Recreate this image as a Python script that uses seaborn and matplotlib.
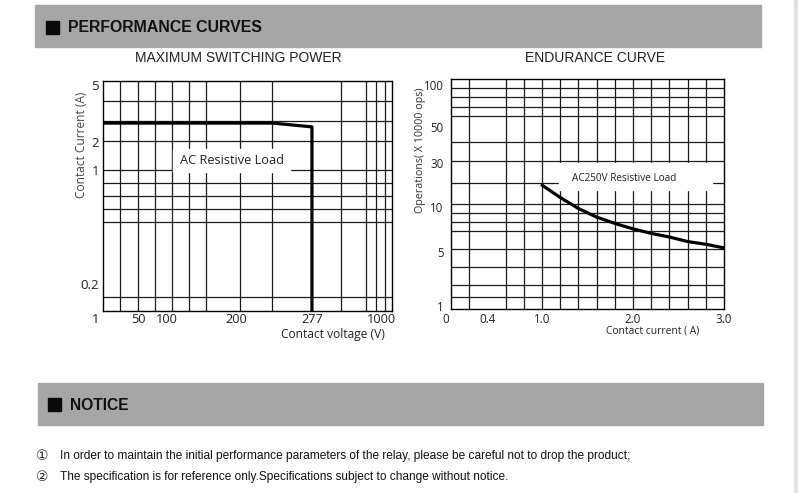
import numpy as np
import pandas as pd
import matplotlib
matplotlib.use("Agg")
import matplotlib.pyplot as plt
import matplotlib.transforms as mtransforms
from matplotlib.patches import Rectangle
from matplotlib import font_manager
import seaborn as sns

# ---------------- data ----------------
power_voltage = [1, 237, 277, 277]
power_current = [3.0, 3.0, 2.8, 0.1]
volt_ticks = [1, 50, 100, 200, 277, 1000]
volt_labels = ["1", "50", "100", "200", "277", "1000"]
curr_ticks = [0.2, 1, 2, 5]
curr_labels = ["0.2", "1", "2", "5"]

endur_current = [1.0, 1.2, 1.4, 1.6, 1.8, 2.0, 2.2, 2.4, 2.6, 2.8, 3.0]
endur_ops = [20, 14.4, 9.85, 8.9, 8.2, 7.6, 7.1, 6.7, 6.2, 5.9, 5.5]
amp_ticks = [0, 0.4, 1.0, 2.0, 3.0]
amp_labels = ["0", "0.4", "1.0", "2.0", "3.0"]
ops_ticks = [1, 5, 10, 30, 50, 100]
ops_labels = ["1", "5", "10", "30", "50", "100"]

notice_lines = [
    "In order to maintain the initial performance parameters of the relay, please be careful not to drop the product;",
    "The specification is for reference only.Specifications subject to change without notice.",
]

# ---------------- scale anchors (axis layout of the printed grid) ----------------
volt_anchor_vals = [1, 50, 100, 200, 277, 1000, 1150]
volt_anchor_pos = [0.0, 0.123, 0.219, 0.461, 0.723, 0.963, 1.0]
curr_anchor_vals = [0.1, 0.2, 1, 2, 5, 5.3]
curr_anchor_pos = [0.0, 0.119, 0.612, 0.735, 0.981, 1.0]
ops_anchor_vals = [0.95, 1, 5, 10, 30, 50, 100, 105]
ops_anchor_pos = [0.0, 0.012, 0.246, 0.443, 0.634, 0.793, 0.974, 1.0]


def make_scale(vals, pos):
    vals = np.asarray(vals, float)
    pos = np.asarray(pos, float)

    def fwd(v):
        return np.interp(v, vals, pos)

    def inv(p):
        return np.interp(p, pos, vals)

    return fwd, inv


# grid line positions (axes fraction)
left_vgrid = [0.060, 0.120, 0.180, 0.239, 0.299, 0.358, 0.473, 0.586, 0.822, 0.911, 0.944, 0.975]
left_hgrid = [0.913, 0.825, 0.738, 0.614, 0.558, 0.501, 0.445, 0.388, 0.061]
right_vgrid = [0.2, 0.6, 0.8, 1.0, 1.2, 1.4, 1.6, 1.8, 2.0, 2.2, 2.4, 2.6, 2.8]
right_hgrid = [0.959, 0.920, 0.880, 0.841, 0.724, 0.644, 0.546, 0.457, 0.417, 0.378,
               0.339, 0.259, 0.181, 0.104, 0.052]

# ---------------- style ----------------
sns.set_style("white")
avail = {f.name for f in font_manager.fontManager.ttflist}
narrow = "Liberation Sans Narrow" if "Liberation Sans Narrow" in avail else "Liberation Sans"
plt.rcParams["font.family"] = ["Liberation Sans", "DejaVu Sans"]
chart_font = ["Open Sans", "DejaVu Sans"]

W, H = 798, 493
fig = plt.figure(figsize=(W / 100, H / 100), dpi=100)
fig.patch.set_facecolor("white")


def fx(x):
    return x / W


def fy(y):
    return 1 - y / H


def axes_rect(x0, y0, x1, y1):
    return [fx(x0), fy(y1), (x1 - x0) / W, (y1 - y0) / H]


# header bars
bar_color = "#a6a6a6"
fig.patches.append(Rectangle((fx(35), fy(47)), (761 - 35) / W, 42 / H,
                             transform=fig.transFigure, color=bar_color, zorder=0))
fig.patches.append(Rectangle((fx(38), fy(425)), (763 - 38) / W, 42 / H,
                             transform=fig.transFigure, color=bar_color, zorder=0))
fig.patches.append(Rectangle((fx(46), fy(34)), 13 / W, 13 / H,
                             transform=fig.transFigure, color="#0a0a0a", zorder=1))
fig.patches.append(Rectangle((fx(48), fy(411)), 13 / W, 13 / H,
                             transform=fig.transFigure, color="#0a0a0a", zorder=1))
fig.patches.append(Rectangle((fx(794), 0), 4 / W, 1,
                             transform=fig.transFigure, color="#e2e2e2", zorder=0))

texts_to_fit = []   # (text, target px, 'w' or 'h')

t = fig.text(fx(68), fy(27), "PERFORMANCE CURVES", fontsize=11, fontweight="bold",
             ha="left", va="center", color="#111111")
texts_to_fit.append((t, 194, "w"))
t = fig.text(fx(70), fy(405), "NOTICE", fontsize=11, fontweight="bold",
             ha="left", va="center", color="#111111")
texts_to_fit.append((t, 59, "w"))

t = fig.text(fx(238.5), fy(57.5), "MAXIMUM SWITCHING POWER", fontsize=8.5,
             ha="center", va="center", color="#222222")
texts_to_fit.append((t, 207, "w"))
t = fig.text(fx(595), fy(57.5), "ENDURANCE CURVE", fontsize=8.5,
             ha="center", va="center", color="#222222")
texts_to_fit.append((t, 140, "w"))

for i, (line, yy) in enumerate(zip(notice_lines, [456, 477])):
    fig.text(fx(42.5), fy(yy), "①②"[i], fontsize=10, family=["DejaVu Sans"],
             ha="center", va="center", color="#222222")
    t = fig.text(fx(60), fy(yy), line, fontsize=8, family=[narrow, "DejaVu Sans"],
                 ha="left", va="center", color="#111111")
    texts_to_fit.append((t, [576, 453][i], "w"))

grid_kw = dict(color="#1a1a1a", lw=0.9, zorder=1)
line_color = "black"

# ---------------- left chart ----------------
axL = fig.add_axes(axes_rect(103, 81, 392, 311))
fwd, inv = make_scale(volt_anchor_vals, volt_anchor_pos)
axL.set_xscale("function", functions=(fwd, inv))
fwd, inv = make_scale(curr_anchor_vals, curr_anchor_pos)
axL.set_yscale("function", functions=(fwd, inv))

for p in left_vgrid:
    axL.plot([p, p], [0, 1], transform=axL.transAxes, **grid_kw)
for p in left_hgrid:
    axL.plot([0, 1], [p, p], transform=axL.transAxes, **grid_kw)
axL.add_patch(Rectangle((0.242, 0.604), 0.647 - 0.242, 0.704 - 0.604,
                        transform=axL.transAxes, color="white", zorder=2))

df_power = pd.DataFrame({"voltage": power_voltage, "current": power_current})
sns.lineplot(data=df_power, x="voltage", y="current", sort=False, estimator=None,
             color=line_color, lw=2.3, ax=axL, zorder=3)
axL.set_xlim(volt_anchor_vals[0], volt_anchor_vals[-1])
axL.set_ylim(curr_anchor_vals[0], curr_anchor_vals[-1])
axL.set_xticks(volt_ticks)
axL.set_xticklabels(volt_labels)
axL.set_yticks(curr_ticks)
axL.set_yticklabels(curr_labels)
axL.minorticks_off()
axL.tick_params(axis="x", length=0, pad=1.2, labelsize=9.2, labelcolor="#222222")
axL.tick_params(axis="y", length=0, pad=3, labelsize=9.5, labelcolor="#222222")
for lab in axL.get_xticklabels() + axL.get_yticklabels():
    lab.set_family(chart_font)
t = axL.text(0.446, 0.6565, "AC Resistive Load", transform=axL.transAxes, ha="center",
             va="center", fontsize=9, family=chart_font, color="#222222", zorder=4)
texts_to_fit.append((t, 104, "w"))
axL.set_xlabel("Contact voltage (V)", fontsize=8.5, family=chart_font, color="#222222",
               va="center")
axL.xaxis.set_label_coords(0.794, -0.102)
texts_to_fit.append((axL.xaxis.label, 104, "w"))
axL.set_ylabel("Contact Current (A)", fontsize=8.5, family=chart_font, color="#444444",
               va="center")
axL.yaxis.set_label_coords(-0.076, 0.722)
texts_to_fit.append((axL.yaxis.label, 106, "h"))

# ---------------- right chart ----------------
axR = fig.add_axes(axes_rect(451, 79, 724, 309))
fwd, inv = make_scale(ops_anchor_vals, ops_anchor_pos)
axR.set_yscale("function", functions=(fwd, inv))
for v in right_vgrid:
    axR.axvline(v, **grid_kw)
for p in right_hgrid:
    axR.plot([0, 1], [p, p], transform=axR.transAxes, **grid_kw)
axR.add_patch(Rectangle((0.396, 0.517), 0.956 - 0.396, 0.635 - 0.517,
                        transform=axR.transAxes, color="white", zorder=2))

df_endur = pd.DataFrame({"current": endur_current, "ops": endur_ops})
sns.lineplot(data=df_endur, x="current", y="ops", sort=False, estimator=None,
             color=line_color, lw=2.3, ax=axR, zorder=3)
axR.set_xlim(0, 3.0)
axR.set_ylim(ops_anchor_vals[0], ops_anchor_vals[-1])
axR.set_xticks(amp_ticks)
axR.set_xticklabels(amp_labels)
axR.set_yticks(ops_ticks)
axR.set_yticklabels(ops_labels)
axR.minorticks_off()
axR.tick_params(axis="x", length=0, pad=3.0, labelsize=8.3, labelcolor="#222222")
axR.tick_params(axis="y", length=0, pad=5.5, labelsize=8.3, labelcolor="#222222")
for lab in axR.get_xticklabels() + axR.get_yticklabels():
    lab.set_family(chart_font)
t = axR.text(0.634, 0.568, "AC250V Resistive Load", transform=axR.transAxes, ha="center",
             va="center", fontsize=7, family=chart_font, color="#222222", zorder=4)
texts_to_fit.append((t, 105, "w"))
axR.set_xlabel("Contact current ( A)", fontsize=7.4, family=chart_font, color="#222222",
               va="center")
axR.xaxis.set_label_coords(0.738, -0.0957)
texts_to_fit.append((axR.xaxis.label, 93, "w"))
axR.set_ylabel("Operations( X 10000 ops)", fontsize=8, family=chart_font,
               color="#333333", va="center")
axR.yaxis.set_label_coords(-0.11, 0.69)
texts_to_fit.append((axR.yaxis.label, 126, "h"))

for ax in (axL, axR):
    ax.set_facecolor("white")
    for s in ax.spines.values():
        s.set_visible(True)
        s.set_color("black")
        s.set_linewidth(1.0)
        s.set_zorder(5)

# shift the outermost tick labels slightly, as printed
axL.xaxis.get_major_ticks()[0].label1.set_transform(
    axL.xaxis.get_major_ticks()[0].label1.get_transform()
    + mtransforms.ScaledTranslation(-7 / 100, 0, fig.dpi_scale_trans))
axR.xaxis.get_major_ticks()[0].label1.set_transform(
    axR.xaxis.get_major_ticks()[0].label1.get_transform()
    + mtransforms.ScaledTranslation(-5 / 100, 0, fig.dpi_scale_trans))

# fit text sizes to the printed widths
fig.canvas.draw()
renderer = fig.canvas.get_renderer()
for t, target, mode in texts_to_fit:
    bb = t.get_window_extent(renderer)
    size = bb.width if mode == "w" else bb.height
    t.set_fontsize(t.get_fontsize() * target / size)

fig.savefig("out.png", dpi=100, facecolor="white")
